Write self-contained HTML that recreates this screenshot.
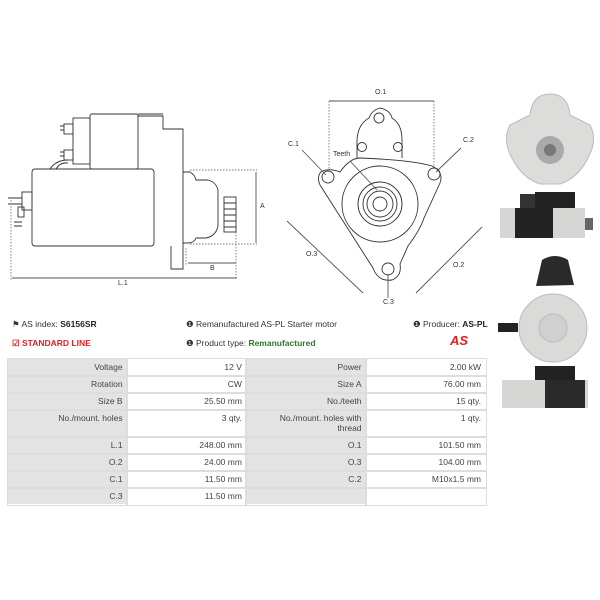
<!DOCTYPE html>
<html><head><meta charset="utf-8"><style>
body{margin:0;width:600px;height:600px;background:#fff;font-family:"Liberation Sans",sans-serif;position:relative;overflow:hidden}
.t{position:absolute;font-size:8.5px;color:#333;white-space:nowrap}
table{position:absolute;left:7px;top:358px;width:479px;border-collapse:collapse;font-size:8.5px;color:#444}
td{border:1px solid #fff;text-align:right;padding:3px 4px 0 4px;vertical-align:top;height:13px;width:112px;outline:1px solid #ddd}
td.g{background:#e3e3e3}
</style></head><body>
<svg width="600" height="320" style="position:absolute;left:0;top:0" fill="none" stroke="#333" stroke-width="0.9">
<rect x="32" y="169" width="122" height="77" rx="3"/>
<rect x="90" y="114" width="48" height="55" rx="2"/>
<path d="M138 116 H163 V129 H183 V269 H171 V246"/>
<path d="M138 114 H163"/>
<rect x="73" y="118" width="17" height="46"/>
<rect x="64" y="124" width="9" height="10"/><rect x="64" y="150" width="9" height="10"/>
<path d="M60 126 h4 M60 130 h4 M60 152 h4 M60 156 h4"/>
<path d="M50 169 Q56 160 68 160"/><path d="M56 169 Q60 162 68 163"/>
<rect x="22" y="192" width="10" height="18"/><rect x="18" y="207" width="6" height="10"/><path d="M8 198 h14 M8 204 h14 M14 222 h8 M14 226 h8"/>
<path d="M183 172 H190 Q195 175 196 180 H208 Q216 182 218 190 V226 Q216 236 206 238 H196 Q194 243 188 243 H183"/>
<rect x="224" y="197" width="12" height="35"/><path d="M224 203 h12 M224 209 h12 M224 215 h12 M224 221 h12 M224 227 h12"/>
<g stroke-dasharray="1.5 1.5" stroke="#777"><path d="M190 170 H257 M190 244 H257 M236 232 V280 M11 197 V280 M186 248 V266"/></g>
<path d="M256 172 V243 M188 263 H236 M12 278 H237" stroke="#555"/>
<g stroke-dasharray="1.5 1.5" stroke="#777"><path d="M329 101 V170 M434 101 V168"/></g>
<path d="M329 101 H434" stroke="#555"/>
<path d="M322 171 Q316 176 320 185 L373 268 Q378 282 392 280 Q402 276 400 264 L408 246 Q420 230 424 218 L440 183 Q444 172 432 166 Q412 160 360 158 Q350 158 340 172 Q330 168 322 171 Z"/>
<path d="M357 158 V140 Q358 124 369 118 Q372 110 380 108 Q390 110 392 118 Q402 124 402 140 V158"/>
<circle cx="379" cy="118" r="5"/><circle cx="362" cy="147" r="4.5"/><circle cx="398" cy="147" r="4.5"/>
<circle cx="328" cy="177" r="6"/><circle cx="434" cy="174" r="6"/><circle cx="388" cy="269" r="6"/>
<circle cx="380" cy="204" r="38"/><circle cx="380" cy="204" r="22"/><circle cx="380" cy="204" r="17"/><circle cx="380" cy="204" r="13"/><circle cx="380" cy="204" r="7"/>
<g stroke="#555"><path d="M287 221 L363 293 M482 227 L416 293 M302 150 L326 175 M461 148 L436 172 M388 274 V298 M350 161 L377 190"/></g>
</svg>
<div class="t" style="left:118px;top:280px;font-size:7px">L.1</div>
<div class="t" style="left:210px;top:265px;font-size:7px">B</div>
<div class="t" style="left:260px;top:203px;font-size:7px">A</div>
<div class="t" style="left:375px;top:89px;font-size:7px">O.1</div>
<div class="t" style="left:288px;top:141px;font-size:7px">C.1</div>
<div class="t" style="left:463px;top:137px;font-size:7px">C.2</div>
<div class="t" style="left:333px;top:151px;font-size:7px">Teeth</div>
<div class="t" style="left:306px;top:251px;font-size:7px">O.3</div>
<div class="t" style="left:453px;top:262px;font-size:7px">O.2</div>
<div class="t" style="left:383px;top:299px;font-size:7px">C.3</div>
<svg width="110" height="330" style="position:absolute;left:490px;top:80px">
<path d="M40 35 Q42 14 60 14 Q78 14 80 35 L100 45 Q108 60 98 78 Q88 98 70 104 H50 Q32 98 22 78 Q12 60 20 45 Z" fill="#dcdcda" stroke="#bbb"/>
<circle cx="60" cy="70" r="14" fill="#aaa"/><circle cx="60" cy="70" r="6" fill="#777"/>
<rect x="30" y="114" width="15" height="14" fill="#333"/><rect x="45" y="112" width="40" height="16" fill="#222"/>
<rect x="10" y="128" width="85" height="30" fill="#d6d6d4"/><rect x="25" y="128" width="38" height="30" fill="#222"/><rect x="95" y="138" width="8" height="12" fill="#666"/>
<path d="M52 180 Q65 172 78 180 L84 205 L46 206 Z" fill="#2a2a2a"/>
<circle cx="63" cy="248" r="34" fill="#dadad8" stroke="#bbb"/><circle cx="63" cy="248" r="14" fill="#d0d0d0" stroke="#bbb"/><rect x="8" y="243" width="20" height="9" fill="#222"/>
<rect x="45" y="286" width="40" height="16" fill="#222"/><rect x="12" y="300" width="86" height="28" fill="#d6d6d4"/><rect x="55" y="300" width="40" height="28" fill="#2a2a2a"/>
</svg>
<div class="t" style="left:12px;top:319px">&#9873; AS index: <b style="color:#222">S6156SR</b></div>
<div class="t" style="left:12px;top:338px;color:#e02020;font-weight:bold">&#9745; STANDARD LINE</div>
<div class="t" style="left:186px;top:319px">&#10102; Remanufactured AS-PL Starter motor</div>
<div class="t" style="left:186px;top:338px">&#10102; Product type: <b style="color:#2a7a2a">Remanufactured</b></div>
<div class="t" style="left:413px;top:319px">&#10102; Producer: <b style="color:#222">AS-PL</b></div>
<div class="t" style="left:450px;top:333px;color:#e02020;font-weight:bold;font-style:italic;font-size:13px">AS</div>
<table>
<tr><td class="g">Voltage</td><td>12 V</td><td class="g">Power</td><td>2.00 kW</td></tr>
<tr><td class="g">Rotation</td><td>CW</td><td class="g">Size A</td><td>76.00 mm</td></tr>
<tr><td class="g">Size B</td><td>25.50 mm</td><td class="g">No./teeth</td><td>15 qty.</td></tr>
<tr><td class="g" style="height:23px">No./mount. holes</td><td>3 qty.</td><td class="g">No./mount. holes with<br>thread</td><td>1 qty.</td></tr>
<tr><td class="g">L.1</td><td>248.00 mm</td><td class="g">O.1</td><td>101.50 mm</td></tr>
<tr><td class="g">O.2</td><td>24.00 mm</td><td class="g">O.3</td><td>104.00 mm</td></tr>
<tr><td class="g">C.1</td><td>11.50 mm</td><td class="g">C.2</td><td>M10x1.5 mm</td></tr>
<tr><td class="g">C.3</td><td>11.50 mm</td><td class="g"></td><td></td></tr>
</table>
</body></html>
